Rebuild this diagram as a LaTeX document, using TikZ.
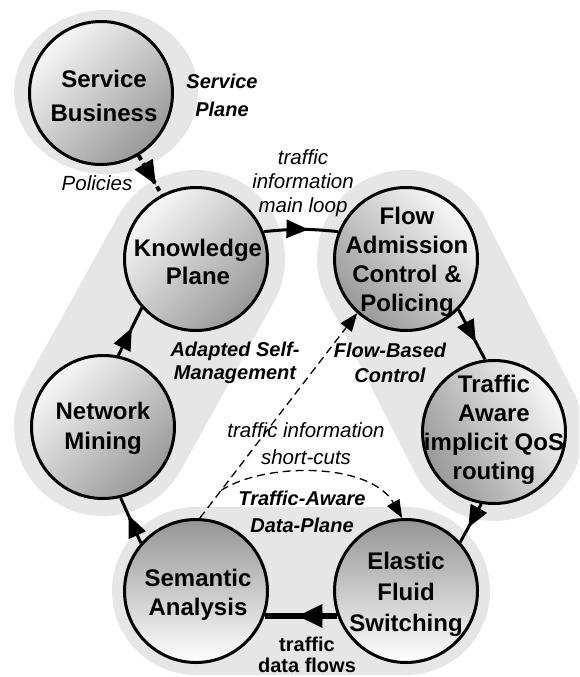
\documentclass[tikz,border=0pt]{standalone}
\usepackage{fontspec}
\setmainfont{Liberation Sans}
\usetikzlibrary{arrows.meta,decorations.markings,calc}
\definecolor{halo}{HTML}{E6E6E6}
\begin{document}
\begin{tikzpicture}[x=1pt,y=-1pt,
  ball/.style={circle, draw=black, line width=3pt, minimum size=143pt, inner sep=0pt},
  dshade/.style={top color=white!97!black, bottom color=black!40, shading angle=#1},
  vshade/.style={top color=black!42, bottom color=white},
  inball/.style={align=center, inner sep=0pt, font=\bfseries\fontsize{24}{#1}\selectfont},
  inball/.default=29,
  lab/.style={align=center, inner sep=0pt, font=\itshape\fontsize{20.5}{#1}\selectfont},
  lab/.default=24,
  blab/.style={align=center, inner sep=0pt, font=\bfseries\itshape\fontsize{20}{#1}\selectfont},
  blab/.default=24,
  conn/.style={line width=3pt},
  midarrow/.style={postaction={decorate}, decoration={markings,
      mark=at position #1 with {\arrow{Triangle[length=22pt,width=18pt]}}}},
  bigmidarrow/.style={postaction={decorate}, decoration={markings,
      mark=at position #1 with {\arrow{Triangle[length=25pt,width=22pt]}}}},
  dashconn/.style={line width=1.3pt, dash pattern=on 8pt off 5pt},
  halostadium/.style={halo, line width=#1, line cap=round}
]
\useasboundingbox (0,0) rectangle (579,677);
\clip (0,0) rectangle (579,677);
% centres
\coordinate (sbc) at (101,93);
\coordinate (kpc) at (196,259);
\coordinate (fac) at (406,259);
\coordinate (tac) at (494,432);
\coordinate (nmc) at (103,427);
\coordinate (sac) at (196,591);
\coordinate (efc) at (406,591);
% background halos
\fill[halo] (106,92) ellipse [x radius=92, y radius=82];
\draw[halostadium=178pt] (kpc) -- (nmc);
\draw[halostadium=178pt] (fac) -- (tac);
\draw[halostadium=168pt] (sac) -- (efc);
% circles
\node[ball, dshade=45] (sb) at (sbc) {};
\node[ball, dshade=45] (kp) at (kpc) {};
\node[ball, dshade=-45] (fa) at (fac) {};
\node[ball, dshade=-60] (ta) at (tac) {};
\node[ball, dshade=45] (nm) at (nmc) {};
\node[ball, vshade] (sa) at (sac) {};
\node[ball, vshade] (ef) at (efc) {};
% circle texts
\node[inball=34] (sbt) at (104,96) {Service\\Business};
\node[inball=28] (kpt) at (198,262) {Knowledge\\Plane};
\node[inball=29] (fat) at (407,262) {Flow\\Admission\\Control \&\\Policing};
\node[inball=29] (tat) at (494,430) {Traffic\\Aware\\implicit QoS\\routing};
\node[inball=30] (nmt) at (103,428) {Network\\Mining};
\node[inball=29] (sat) at (198,595) {Semantic\\Analysis};
\node[inball=31] (eft) at (406,594) {Elastic\\Fluid\\Switching};
% labels
\node[blab=28] (splane) at (222,95) {Service\\Plane};
\node[lab] (pol) at (97,183) {Policies};
\node[lab=24] (mainloop) at (303,183) {traffic\\information\\main loop};
\node[blab=23] (asm) at (235,363) {Adapted Self-\\Management};
\node[blab=25] (fbc) at (390,363) {Flow-Based\\Control};
\node[lab=27] (shortcuts) at (306,444) {traffic information\\short-cuts};
\node[blab=27] (tadp) at (302,512) {Traffic-Aware\\Data-Plane};
\node[font=\bfseries\fontsize{20}{21}\selectfont, align=center, inner sep=0pt] (tdf) at (307,655) {traffic\\data flows};
% connectors
\draw[line width=4pt, dash pattern=on 5pt off 4pt, postaction={decorate},
  decoration={markings, mark=at position 0.75 with {\arrow{Triangle[length=24pt,width=20pt]}}}]
  (sb.-59) -- (kp.118);
\draw[conn, midarrow=0.6] (kp.22) to[bend left=6] (fa.158);
\draw[conn, midarrow=0.65] (fa.-44) -- (ta.97);
\draw[conn, midarrow=0.62] (ta.-100) -- (ef.42);
\draw[line width=6pt, bigmidarrow=0.55] (ef.200) -- (sa.-20);
\draw[conn, midarrow=0.62] (sa.139) -- (nm.-76);
\draw[conn, midarrow=0.58] (nm.78) -- (kp.-138);
\draw[dashconn, -{Triangle[length=18pt,width=14pt]}] (sa.87) -- (fa.228);
\coordinate (branch) at ($(sa.87)!0.135!(fa.228)$);
\draw[dashconn, -{Triangle[length=18pt,width=14pt]}] (branch) .. controls (265,462) and (370,462) .. (ef.93);
\end{tikzpicture}
\end{document}
